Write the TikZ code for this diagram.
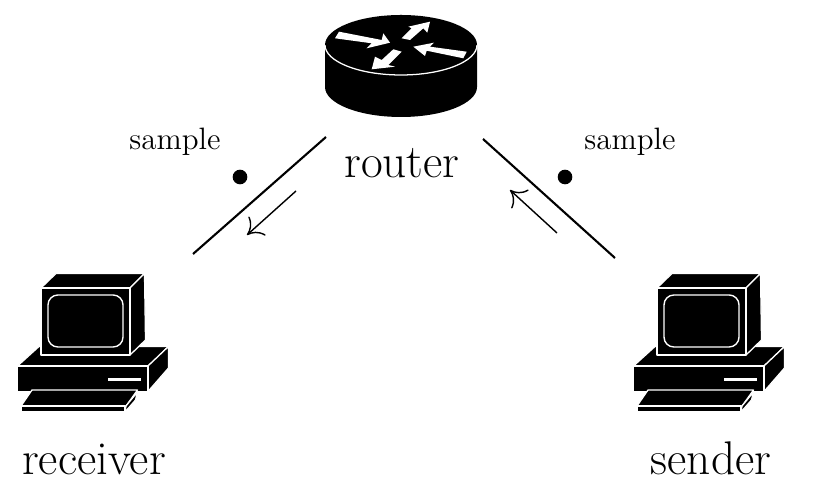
\documentclass[tikz,border=0pt]{standalone}
\usepackage{xcolor}
\usepackage{amsmath}
\usetikzlibrary{arrows.meta}

\tikzset{
  part/.style={fill=black,draw=white,line width=0.45pt,line join=round},
  link/.style={line width=0.75pt},
  flow/.style={line width=0.5pt,-{Computer Modern Rightarrow[length=5pt,width=9pt]}},
  bigname/.style={anchor=base,font=\fontsize{16.8}{20}\selectfont},
  smallname/.style={anchor=base,font=\fontsize{11}{13}\selectfont},
  sampledot/.style={circle,fill=black,inner sep=0pt,minimum size=5.2pt},
  computer/.pic={
    % base box
    \draw[part] (-0.5,92) -- (21,72.5) -- (150.5,72.5) -- (130,92) -- cycle;
    \draw[part] (130,92) -- (150.5,72.5) -- (150.5,94) -- (130,117.5) -- cycle;
    \draw[part] (-0.5,92) rectangle (130,117.5);
    \fill[white] (90,104) rectangle (123,107.5);
    % monitor
    \draw[part] (23,14) -- (38,-0.5) -- (126.5,-0.5) -- (112,14) -- cycle;
    \draw[part] (112,14) -- (126.5,-0.5) -- (127.5,66) -- (112,81) -- cycle;
    \draw[part] (23,14) rectangle (112,81);
    \draw[white,line width=0.5pt,rounded corners=3.5pt] (30,21) rectangle (105,73);
    % keyboard
    \draw[part] (14,116) -- (119.5,116) -- (108,132) -- (3,132) -- cycle;
    \draw[part] (108,132) -- (119.5,118) -- (117.5,126) -- (107,138) -- cycle;
    \draw[part] (3,132) rectangle (107,138);
  },
  routerbox/.pic={
    % body and top
    \fill[black] (-76,0) -- (-76,42) arc (180:0:76 and 30) -- (76,0) -- cycle;
    \draw[part] (0,0) ellipse (76 and 30);
    \fill[black] (-76,0) arc (180:0:76 and -30) -- cycle;
    % arrows on top
    \fill[white] (-62,-13.3) -- (-19.3,-5) -- (-17.7,-11.7) -- (-11,-2.3) -- (-34.3,3.3) -- (-29.3,-1.7) -- (-66,-6.7) -- cycle;
    \fill[white] (0.7,-6.7) -- (10.7,-16.7) -- (7.3,-18.3) -- (29,-23.3) -- (26.3,-12.3) -- (22.3,-16.7) -- (9,-5) -- cycle;
    \fill[white] (12.3,1.7) -- (33,-2.3) -- (29,1.7) -- (65.7,6.7) -- (62.3,13.3) -- (25.7,5.7) -- (24,11) -- cycle;
    \fill[white] (-29.3,24.3) -- (-26,11.7) -- (-19.3,15) -- (-7.7,4.3) -- (0.7,6.7) -- (-12.7,20) -- (-6,21.7) -- cycle;
  }
}

\begin{document}
\begin{tikzpicture}[x=0.0125cm,y=-0.0125cm]
  \useasboundingbox (0,0) rectangle (816,490);

  \pic (routericon) at (401,45) {routerbox};
  \pic (receivericon) at (18,274) {computer};
  \pic (sendericon) at (634,274) {computer};

  \node[bigname] (router) at (402,178) {router};
  \node[bigname] (receiver) at (94,475) {receiver};
  \node[bigname] (sender) at (711,475) {sender};
  \node[smallname] (sampleleft) at (175,150) {sample};
  \node[smallname] (sampleright) at (630,150) {sample};

  \node[sampledot] (dotleft) at (240,177) {};
  \node[sampledot] (dotright) at (565,177) {};

  \coordinate (routerleft) at (326,137);
  \coordinate (receiverend) at (193,254);
  \coordinate (routerright) at (483,139);
  \coordinate (senderend) at (615,258);
  \draw[link] (routerleft) -- (receiverend);
  \draw[link] (routerright) -- (senderend);

  \coordinate (downstart) at (296,191);
  \coordinate (downend) at (247,235);
  \coordinate (upstart) at (557,233);
  \coordinate (upend) at (510,190);
  \draw[flow] (downstart) -- (downend);
  \draw[flow] (upstart) -- (upend);
\end{tikzpicture}
\end{document}
